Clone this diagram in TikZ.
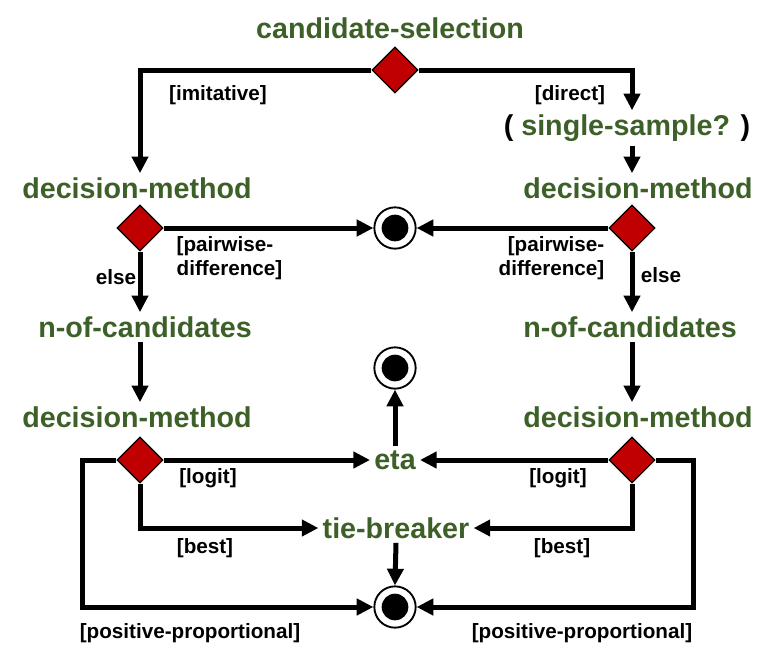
\documentclass[tikz,border=0pt]{standalone}
\usepackage{fontspec}
\setmainfont{Liberation Sans}
\usetikzlibrary{arrows.meta,positioning,shapes.geometric,calc,backgrounds}
\definecolor{nlGreen}{RGB}{61,96,40}
\definecolor{nlRed}{RGB}{192,0,0}

\begin{document}
\begin{tikzpicture}[x=0.75pt,y=-0.75pt,
      var/.style={font=\bfseries\fontsize{21.5}{24}\selectfont,text=nlGreen,inner sep=3pt},
      dec/.style={diamond,draw=black,line width=1pt,fill=nlRed,inner sep=0pt,
        minimum width=34.5pt,minimum height=34.5pt},
      fin/.style={circle,draw=black,line width=1.4pt,fill=white,minimum size=31pt,inner sep=0pt,
        path picture={\fill[black] (path picture bounding box.center) circle (10pt);}},
      lab/.style={font=\bfseries\fontsize{15.5}{18}\selectfont},
      flow/.style={line width=3.75pt,-{Triangle[length=12.5pt,width=12pt]}}]
    \useasboundingbox (0,0) rectangle (770,654);
    % top choice
    \node[var] (cseltxt) at (390,28) {candidate-selection};
    \node[dec] (csel) at (395,70) {};
    \node[var,text=black] (single) at (627,128) {( \textcolor{nlGreen}{single-sample?} )};
    % decision methods and their diamonds
    \node[var] (dm1l) at (137,188) {decision-method};
    \node[var] (dm1r) at (638,188) {decision-method};
    \node[var] (nocl) at (145,327) {n-of-candidates};
    \node[var] (nocr) at (630,327) {n-of-candidates};
    \node[var] (dm2l) at (137,417) {decision-method};
    \node[var] (dm2r) at (638,417) {decision-method};
    \foreach \name/\x/\y in {d1l/140/228, d1r/632/228, d2l/140/460, d2r/632/460}
      \node[dec] (\name) at (\x,\y) {};
    \node[var] (eta) at (395,460) {eta};
    \node[var] (tie) at (396,528) {tie-breaker};
    % final states
    \node[fin] (end1) at (395,228) {};
    \node[fin] (end2) at (395,368) {};
    \node[fin] (end3) at (395,607) {};
    \coordinate (loopl) at (82,607);
    \coordinate (loopr) at (693,607);

    \begin{pgfonlayer}{background}
    \draw[flow] (csel.west) -| (dm1l.north -| d1l);
    \draw[flow] (csel.east) -| (single.north -| d1r);
    \draw[flow] (single.south -| d1r) -- (dm1r.north -| d1r);
    \draw[flow] (d1l.east) -- (end1.west);
    \draw[flow] (d1r.west) -- (end1.east);
    \draw[flow] (d1l.south) -- (nocl.north -| d1l);
    \draw[flow] (d1r.south) -- (nocr.north -| d1r);
    \draw[flow] (nocl.south -| d1l) -- (dm2l.north -| d1l);
    \draw[flow] (nocr.south -| d1r) -- (dm2r.north -| d1r);
    \draw[flow] (d2l.east) -- (eta.west);
    \draw[flow] (d2r.west) -- (eta.east);
    \draw[flow] (eta.north) -- (end2.south);
    \draw[flow] (d2l.south) |- (tie.west);
    \draw[flow] (d2r.south) |- (tie.east);
    \draw[flow] (tie.south) -- (end3.north);
    \draw[flow] (d2l.west) -| (loopl) -- (end3.west);
    \draw[flow] (d2r.east) -| (loopr) -- (end3.east);
    \end{pgfonlayer}

    % guards
    \node[lab] (imit) at (218,95) {[imitative]};
    \node[lab] (direct) at (570,95) {[direct]};
    \node[lab,align=left,anchor=west] (pw1) at (172,258) {[pairwise-\\difference]};
    \node[lab,align=right,anchor=east] (pw2) at (609,258) {[pairwise-\\difference]};
    \node[lab] (else1) at (116,277) {else};
    \node[lab] (else2) at (661,275) {else};
    \node[lab] (logit1) at (208,478) {[logit]};
    \node[lab] (logit2) at (558,478) {[logit]};
    \node[lab] (best1) at (205,548) {[best]};
    \node[lab] (best2) at (562,548) {[best]};
    \node[lab] (pp1) at (190,633) {[positive-proportional]};
    \node[lab] (pp2) at (582,633) {[positive-proportional]};
  \end{tikzpicture}
\end{document}
